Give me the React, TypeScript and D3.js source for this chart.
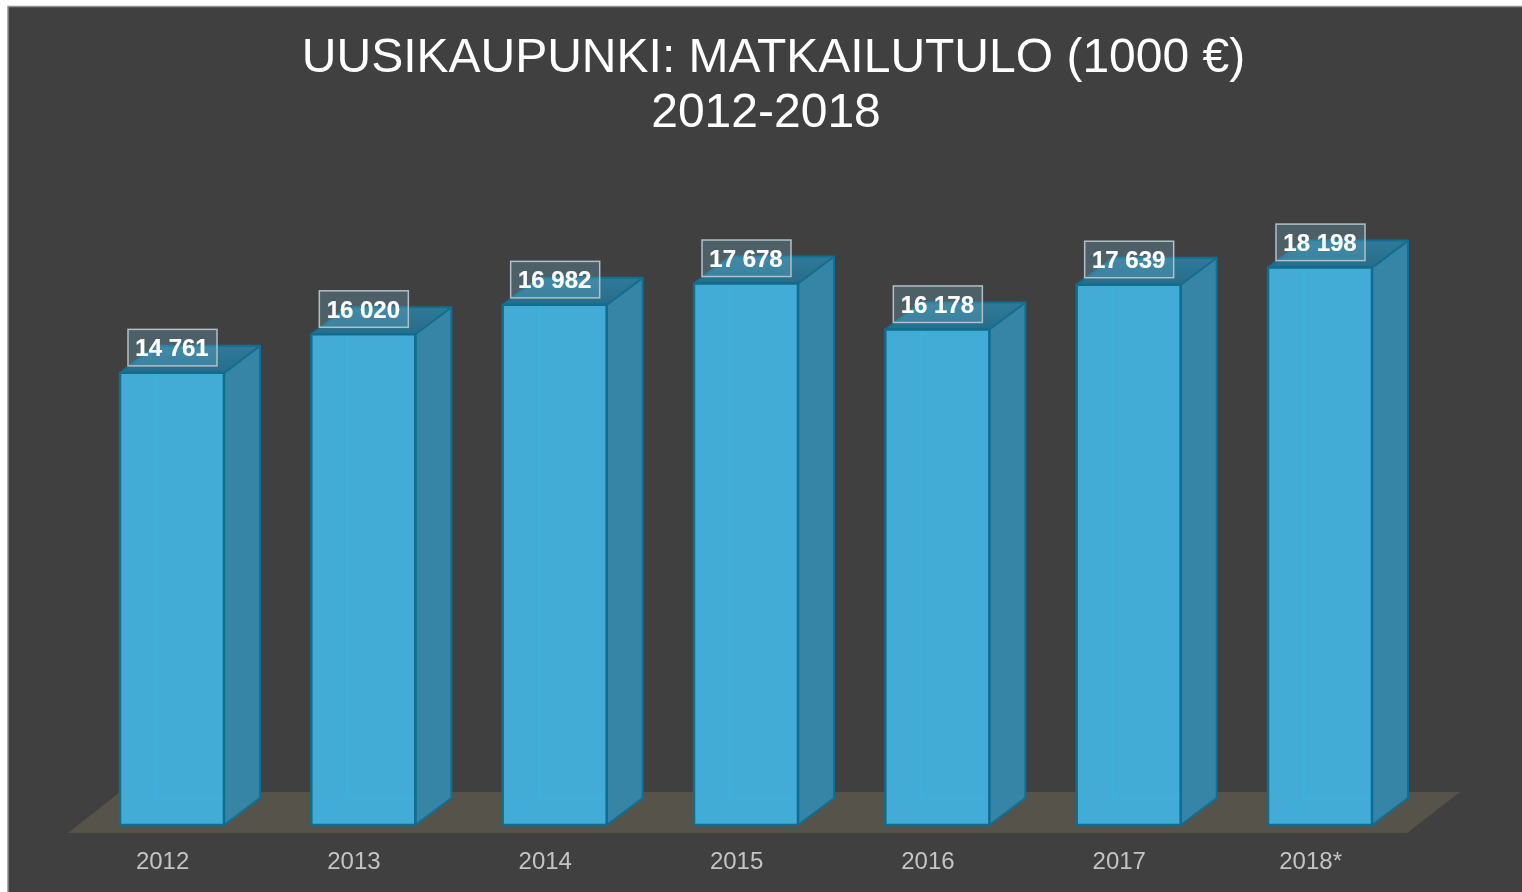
import React from "react";
import * as d3 from "d3";

const years = ["2012", "2013", "2014", "2015", "2016", "2017", "2018*"];
const values = [14761, 16020, 16982, 17678, 16178, 17639, 18198];
const labels = ["14 761", "16 020", "16 982", "17 678", "16 178", "17 639", "18 198"];
const titleLines = ["UUSIKAUPUNKI: MATKAILUTULO (1000 €)", "2012-2018"];

const W = 1522, H = 892;
const baseY = 825;
const depthX = 36, depthY = -27;
const FONT = "'Liberation Sans', Arial, sans-serif";

const x = d3.scaleBand<string>().domain(years).range([76.33, 1415.67]).paddingInner(0.4565).paddingOuter(0.22825);
const y = d3.scaleLinear().domain([0, 20000]).range([baseY, baseY - 20000 * 0.03063]);
const path = d3.line();

export default function App() {
  const bw = x.bandwidth();
  const first = x(years[0])!;
  const last = x(years[years.length - 1])! + bw;
  const floor: [number, number][] = [
    [first - 52, baseY + 8],
    [last + 35, baseY + 8],
    [last + 88, baseY - 33],
    [first, baseY - 33],
  ];
  return (
    <svg width={W} height={H} viewBox={`0 0 ${W} ${H}`}
      style={{ position: "absolute", left: 0, top: 0, display: "block", background: "#fff" }}>
      <defs>
        <filter id="soft" x="-5%" y="-5%" width="110%" height="110%" colorInterpolationFilters="sRGB">
          <feGaussianBlur stdDeviation="0.5" />
        </filter>
        <linearGradient id="capShade" x1="0" y1="0" x2="0" y2="1">
          <stop offset="0" stopColor="#2f7a99" />
          <stop offset="1" stopColor="#286c8a" />
        </linearGradient>
      </defs>
      <rect x={8} y={6} width={W - 8} height={H - 6} fill="#404040" />
      <path d={`M8,${H}V6.5H${W}`} fill="none" stroke="#909090" strokeWidth={1.5} />

      <g filter="url(#soft)">
        <path d={path(floor)! + "Z"} fill="#56534b" />
        {years.map((yr, i) => {
          const x0 = x(yr)!, x1 = x0 + bw, top = y(values[i]);
          const front: [number, number][] = [[x0, top], [x1, top], [x1, baseY], [x0, baseY]];
          const side: [number, number][] = [[x1, top], [x1 + depthX, top + depthY], [x1 + depthX, baseY + depthY], [x1, baseY]];
          const cap: [number, number][] = [[x0, top], [x0 + depthX, top + depthY], [x1 + depthX, top + depthY], [x1, top]];
          const lx = x0 + 36, ly = baseY + depthY;
          return (
            <g key={yr}>
              <path d={path(side)! + "Z"} fill="#3785a6" stroke="#136f90" strokeWidth={2} strokeLinejoin="round" />
              <path d={path(cap)! + "Z"} fill="url(#capShade)" stroke="#136f90" strokeWidth={2} strokeLinejoin="round" />
              <path d={path(front)! + "Z"} fill="#42abd6" />
              <path d={path([[lx, top], [lx, ly]])!} stroke="#3cb2df" strokeWidth={1.5} fill="none" />
              <path d={path([[lx, ly], [x1, ly]])!} stroke="#3cb2df" strokeWidth={1.5} fill="none" />
              <path d={path([[lx, ly], [x0, baseY]])!} stroke="#3cb2df" strokeWidth={1.5} fill="none" />
              <path d={path(front)! + "Z"} fill="none" stroke="#0f6d8e" strokeWidth={2.5} strokeLinejoin="round" />
            </g>
          );
        })}
        {years.map((yr, i) => {
          const x0 = x(yr)!, top = y(values[i]);
          return (
            <g key={yr + "l"}>
              <rect x={x0 + 8} y={top - 43.5} width={89} height={36.5} fill="#6fb5cc" fillOpacity={0.28} stroke="#b0c0c6" strokeWidth={1.5} />
              <text x={x0 + 52} y={top - 16.5} textAnchor="middle" fontFamily={FONT} fontWeight={700} fontSize={24} fill="#fff" stroke="#fff" strokeWidth={0.2}>{labels[i]}</text>
            </g>
          );
        })}
        {years.map((yr) => (
          <text key={yr + "t"} x={x(yr)! + 42.6} y={869} textAnchor="middle" fontFamily={FONT} fontSize={24} fill="#c4c4c4">{yr}</text>
        ))}
        <text x={773.5} y={72} textAnchor="middle" fontFamily={FONT} fontSize={48} fill="#fff">{titleLines[0]}</text>
        <text x={766} y={127} textAnchor="middle" fontFamily={FONT} fontSize={48} fill="#fff">{titleLines[1]}</text>
      </g>
    </svg>
  );
}
